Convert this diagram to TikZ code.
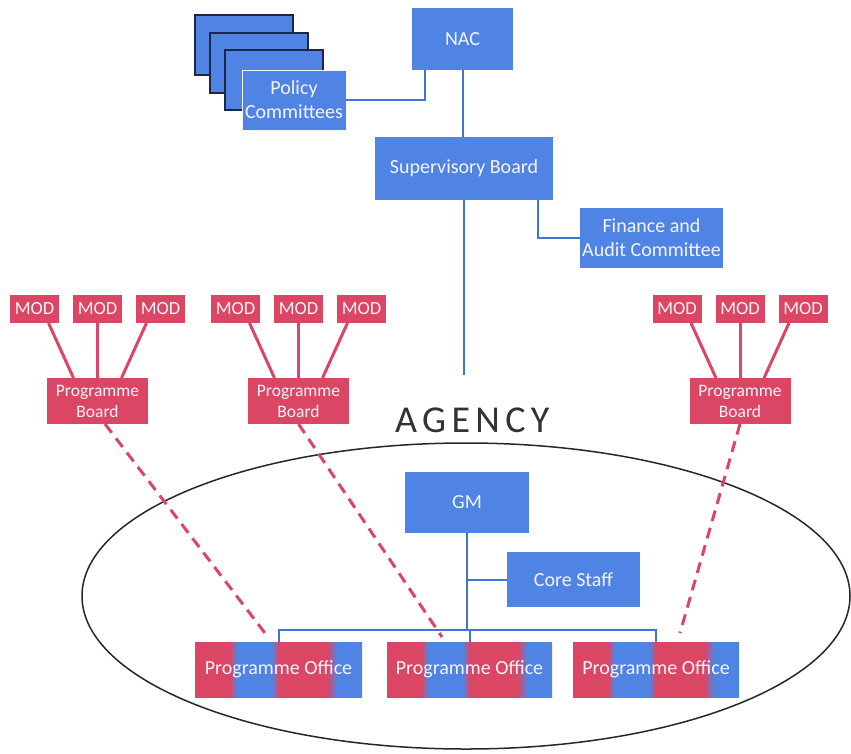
\documentclass[tikz,border=0pt]{standalone}
\usepackage{fontspec}
\setmainfont{Carlito}
\newfontfamily\agencyfont[LetterSpace=14]{Carlito}

\definecolor{boxblue}{RGB}{80,132,228}
\definecolor{boxred}{RGB}{218,70,100}
\definecolor{boxtext}{RGB}{244,244,250}
\definecolor{lineblue}{RGB}{66,116,214}
\definecolor{stackedge}{RGB}{30,38,70}
\definecolor{agencygray}{RGB}{50,50,50}

% red/blue vertical bands of a programme office (stops 25bp..75bp span the box)
\pgfdeclarehorizontalshading{postripe}{100bp}{%
  color(0bp)=(boxred); color(35.5bp)=(boxred);
  color(37.5bp)=(boxblue); color(48bp)=(boxblue);
  color(50bp)=(boxred); color(64.5bp)=(boxred);
  color(67.5bp)=(boxblue); color(100bp)=(boxblue)}

\tikzset{
  bluebox/.style={fill=boxblue, text=boxtext, inner sep=0pt, outer sep=0pt,
    align=center, font=\fontsize{20}{24}\selectfont},
  stackbox/.style={bluebox, draw=stackedge, line width=1.6pt,
    minimum width=98, minimum height=60},
  redbox/.style={fill=boxred, text=boxtext, inner sep=0pt, outer sep=0pt,
    align=center, font=\fontsize{17.5}{21}\selectfont},
  modbox/.style={redbox, minimum width=49, minimum height=28,
    font=\fontsize{18.5}{20}\selectfont},
  pboard/.style={redbox, minimum width=101, minimum height=46},
  poffice/.style={shade, shading=postripe, text=boxtext, inner sep=0pt,
    outer sep=0pt, font=\fontsize{20}{24}\selectfont,
    minimum width=166, minimum height=55},
  blueline/.style={draw=lineblue, line width=2pt},
  redline/.style={draw=boxred, line width=3pt},
  dashline/.style={draw=boxred, line width=3pt, dash pattern=on 11pt off 7pt}
}

\begin{document}
\begin{tikzpicture}[x=1pt, y=-1pt]
\useasboundingbox (0,0) rectangle (851,753);

% the agency
\draw[black!85, line width=1.5pt] (466,596) ellipse [x radius=384, y radius=153];
\node[anchor=base west, text=agencygray, inner sep=0pt,
      font=\agencyfont\fontsize{38}{40}\selectfont] (agency) at (395,432) {AGENCY};

% governance
\node[stackbox] (st1) at (244,45) {};
\node[stackbox] (st2) at (259,63) {};
\node[stackbox] (st3) at (274,80) {};
\node[bluebox, draw=boxtext, line width=0.8pt, minimum width=104, minimum height=60]
  (pc) at (294,100) {Policy\\Committees};
\node[bluebox, minimum width=101, minimum height=62] (nac) at (462.5,39) {NAC};
\node[bluebox, minimum width=178, minimum height=63] (sb) at (464,168.5) {Supervisory Board};
\node[bluebox, minimum width=143, minimum height=60] (fa) at (651.5,238) {Finance and\\Audit Committee};
\coordinate (agtop) at (464,375);

\draw[blueline] (pc.east) -| ([xshift=-37.5pt]nac.south);
\draw[blueline] (nac.south) -- (nac.south |- sb.north);
\draw[blueline] (sb.south) -- (agtop);
\draw[blueline] ([xshift=74pt]sb.south) |- (fa.west);

% programme boards with their MODs
\foreach \g/\cx in {1/97.5, 2/298.5, 3/740} {
  \node[pboard] (pb\g) at (\cx,401) {Programme\\Board};
  \node[modbox] (m\g a) at (\cx-63,309) {MOD};
  \node[modbox] (m\g b) at (\cx,309) {MOD};
  \node[modbox] (m\g c) at (\cx+63,309) {MOD};
  \draw[redline] ([xshift=14pt]m\g a.south) -- ([xshift=-24pt]pb\g.north);
  \draw[redline] (m\g b.south) -- (pb\g.north);
  \draw[redline] ([xshift=-14pt]m\g c.south) -- ([xshift=24pt]pb\g.north);
}

% inside the agency
\node[bluebox, minimum width=124, minimum height=61] (gm) at (467,502.5) {GM};
\node[bluebox, minimum width=133, minimum height=55] (core) at (573.5,579.5) {Core Staff};
\node[poffice, minimum width=167] (po1) at (278.5,669.5) {Programme Office};
\node[poffice, minimum width=165] (po2) at (469.5,669.5) {Programme Office};
\node[poffice] (po3) at (656,669.5) {Programme Office};
\coordinate (bus) at (467,630);

\draw[blueline] (gm.south) -- (bus);
\draw[blueline] (core.west) -- (core.west -| gm.south);
\draw[blueline] (po1.north) |- (po3.north |- bus) -- (po3.north);
\draw[blueline] (po2.north) -- (po2.north |- bus);

% programme boards steering the programme offices
\draw[dashline] ([xshift=7.5pt]pb1.south) -- ([xshift=-10.5pt,yshift=5pt]po1.north);
\draw[dashline] (pb2.south) -- ([xshift=-27.5pt,yshift=5pt]po2.north);
\draw[dashline] (pb3.south) -- ([xshift=24pt,yshift=9pt]po3.north);
\end{tikzpicture}
\end{document}
